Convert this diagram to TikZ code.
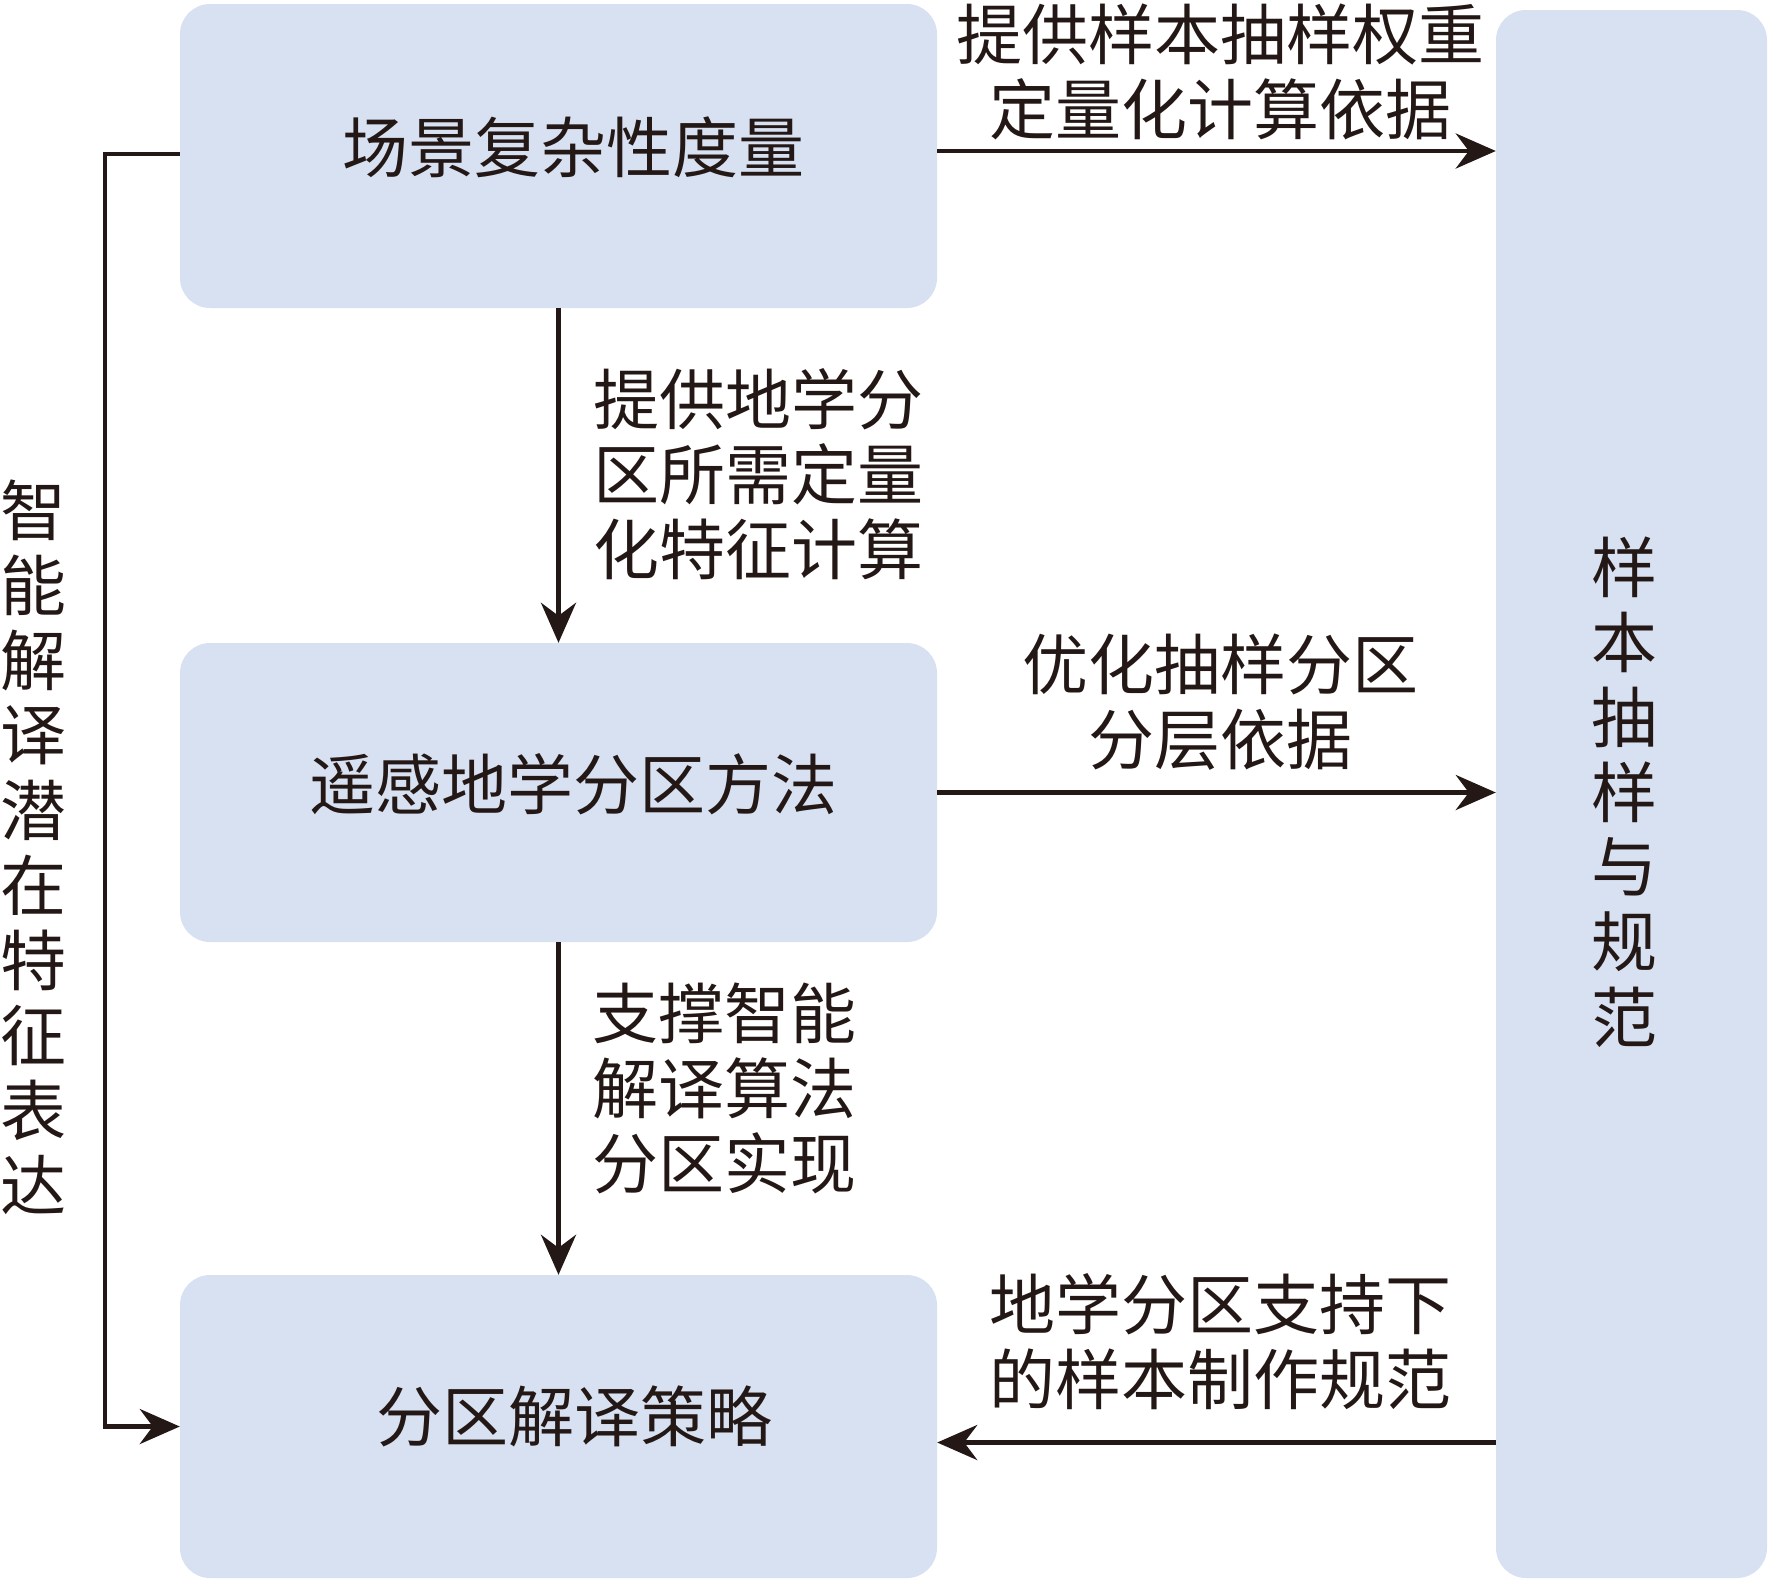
\documentclass[tikz,border=0pt]{standalone}
\usepackage{fontspec}
\usepackage{xcolor}
\usepackage{tikz}
\usetikzlibrary{positioning, arrows.meta}
\newfontfamily\cjkfont{Noto Sans CJK SC}
\definecolor{panelblue}{RGB}{216,225,241}
\definecolor{inkdark}{RGB}{35,24,21}
\tikzset{
  panel/.style={fill=panelblue, rounded corners=30pt, inner sep=0pt},
  lbl/.style={font=\cjkfont\fontsize{66pt}{75pt}\selectfont, inner sep=0pt, text=inkdark},
  flow/.style={line width=4.6pt, draw=inkdark, -{Stealth[length=40pt,width=35pt]}},
}

\begin{document}
\begin{tikzpicture}[x=1pt, y=-1pt]
            \useasboundingbox (0,0) rectangle (1769,1580);

            % Panels
            \node[panel, minimum width=757pt, minimum height=304pt] (scene) at (558.5,156) {};
            \node[panel, minimum width=757pt, minimum height=299pt] (zoning) at (558.5,792.5) {};
            \node[panel, minimum width=757pt, minimum height=303pt] (strategy) at (558.5,1426.5) {};
            \node[panel, minimum width=271pt, minimum height=1568pt] (sample) at (1631.5,794) {};

            \node[lbl] (sceneT) at (573,147) {场景复杂性度量};
            \node[lbl] (zoningT) at (573,784) {遥感地学分区方法};
            \node[lbl] (strategyT) at (574,1416) {分区解译策略};

            % Connectors
            \coordinate (wt) at ([yshift=5pt]scene.east);
            \coordinate (spec) at ([yshift=-16pt]strategy.east);
            \draw[flow] (scene.south) -- (zoning.north);
            \draw[flow] (zoning.south) -- (strategy.north);
            \draw[flow] (wt) -- (wt -| sample.west);
            \draw[flow] (zoning.east) -- (zoning.east -| sample.west);
            \draw[flow] (spec -| sample.west) -- (spec);
            \draw[flow] ([yshift=2pt]scene.west) -- ++(-75,0) |- (strategy.west);

            % Connector labels
            \node[lbl, align=center] (wtT) at (1220,71.5) {提供样本抽样权重\\定量化计算依据};
            \node[lbl, align=center] (layerT) at (1220,702) {优化抽样分区\\分层依据};
            \node[lbl, align=center] (specT) at (1220,1341.5) {地学分区支持下\\的样本制作规范};
            \node[lbl, align=left, anchor=west] (featT) at (593,474) {提供地学分\\区所需定量\\化特征计算};
            \node[lbl, align=left, anchor=west] (implT) at (592,1088) {支撑智能\\解译算法\\分区实现};

            % Vertical texts
            \foreach \c [count=\i] in {智,能,解,译,潜,在,特,征,表,达}
                \node[lbl] (lat\i) at (33,510+75*\i-75) {\c};
            \foreach \c [count=\i] in {样,本,抽,样,与,规,范}
                \node[lbl] (smp\i) at (1624,567+75*\i-75) {\c};
        \end{tikzpicture}
\end{document}
